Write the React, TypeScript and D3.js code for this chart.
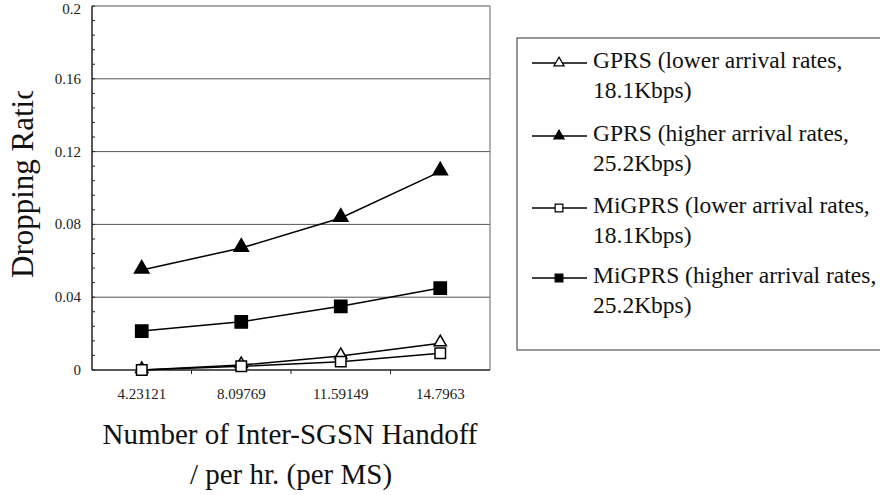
import React from "react";
import * as d3 from "d3";

const categories = ["4.23121", "8.09769", "11.59149", "14.7963"];
const gprsLow = [0, 0.0027, 0.0077, 0.0147];
const gprsHigh = [0.055, 0.067, 0.0835, 0.109];
const migprsLow = [0, 0.002, 0.0046, 0.0092];
const migprsHigh = [0.0214, 0.0265, 0.035, 0.045];
const yTicks = [0, 0.04, 0.08, 0.12, 0.16, 0.2];
const seriesNames = [
  ["GPRS (lower arrival rates,", "18.1Kbps)"],
  ["GPRS (higher arrival rates,", "25.2Kbps)"],
  ["MiGPRS (lower arrival rates,", "18.1Kbps)"],
  ["MiGPRS (higher arrival rates,", "25.2Kbps)"],
];

const FONT = "Liberation Serif, Times New Roman, serif";

export default function App() {
  const svgRef = React.useRef<SVGSVGElement>(null);
  const width = 880;
  const height = 495;
  const margin = { left: 92, right: 390, top: 6, bottom: 125 };

  React.useEffect(() => {
    const svgEl = d3.select(svgRef.current);
    svgEl.selectAll("*").remove();

    const x = d3.scaleBand().domain(categories).range([margin.left, width - margin.right]);
    const y = d3.scaleLinear().domain([0, 0.2]).range([height - margin.bottom, margin.top]);
    const x0 = margin.left, x1 = width - margin.right;
    const yb = height - margin.bottom;

    svgEl.append("rect").attr("width", width).attr("height", height).attr("fill", "white");

    // grid lines
    svgEl.append("g").selectAll("line")
      .data(yTicks.slice(1))
      .enter().append("line")
      .attr("x1", x0).attr("x2", x1)
      .attr("y1", (d) => y(d)).attr("y2", (d) => y(d))
      .attr("stroke", "#555")
      .attr("stroke-width", 1);
    // right border
    svgEl.append("line").attr("x1", x1).attr("x2", x1).attr("y1", y(0.2)).attr("y2", yb)
      .attr("stroke", "#666");

    // y axis, minor ticks pointing inward
    const minor = d3.range(0, 0.2001, 0.008);
    svgEl.append("g").selectAll("line")
      .data(minor)
      .enter().append("line")
      .attr("x1", x0).attr("x2", x0 + 3)
      .attr("y1", (d) => y(d)).attr("y2", (d) => y(d))
      .attr("stroke", "#222");
    svgEl.append("line").attr("x1", x0).attr("x2", x0).attr("y1", y(0.2)).attr("y2", yb)
      .attr("stroke", "#222").attr("stroke-width", 1.5);
    svgEl.append("g").selectAll("text")
      .data(yTicks)
      .enter().append("text")
      .attr("x", x0 - 11).attr("y", (d) => Math.max(y(d) + 5, 14))
      .attr("text-anchor", "end")
      .attr("font-family", FONT).attr("font-size", 15).attr("fill", "#222")
      .text((d) => String(+d.toFixed(2)));

    // x axis
    svgEl.append("line").attr("x1", x0).attr("x2", x1).attr("y1", yb).attr("y2", yb)
      .attr("stroke", "#222").attr("stroke-width", 1.5);
    const bounds = categories.slice(1).map((c) => x(c) as number);
    svgEl.append("g").selectAll("line")
      .data(bounds)
      .enter().append("line")
      .attr("x1", (d) => d).attr("x2", (d) => d)
      .attr("y1", yb).attr("y2", yb + 4)
      .attr("stroke", "#222");
    svgEl.append("g").selectAll("text")
      .data(categories)
      .enter().append("text")
      .attr("x", (d) => (x(d) as number) + x.bandwidth() / 2)
      .attr("y", yb + 29)
      .attr("text-anchor", "middle")
      .attr("font-family", FONT).attr("font-size", 15).attr("fill", "#222")
      .text((d) => d);

    // axis titles
    const xt = svgEl.append("text")
      .attr("text-anchor", "middle")
      .attr("font-family", FONT).attr("font-size", 29).attr("fill", "#111");
    xt.append("tspan").attr("x", 290).attr("y", 444).text("Number of Inter-SGSN Handoff");
    xt.append("tspan").attr("x", 291).attr("y", 484).text("/ per hr. (per MS)");

    svgEl.append("clipPath").attr("id", "yclip")
      .append("rect").attr("x", 0).attr("y", 91).attr("width", 60).attr("height", 300);
    svgEl.append("g").attr("clip-path", "url(#yclip)")
      .append("text")
      .attr("transform", "translate(33,278) rotate(-90)")
      .attr("text-anchor", "start")
      .attr("font-family", FONT).attr("font-size", 31).attr("fill", "#111")
      .text("Dropping Ratio");

    // series
    const series = [
      { values: gprsLow, shape: "triangle", fill: "white" },
      { values: gprsHigh, shape: "triangle", fill: "black" },
      { values: migprsLow, shape: "square", fill: "white" },
      { values: migprsHigh, shape: "square", fill: "black" },
    ];
    const cx = (i: number) => (x(categories[i]) as number) + x.bandwidth() / 2;
    const line = d3.line<number>().x((_, i) => cx(i)).y((d) => y(d));
    const plotSym = (shape: string, filled: boolean) =>
      shape === "triangle"
        ? d3.symbol(d3.symbolTriangle, filled ? 90 : 65)()
        : d3.symbol(d3.symbolSquare, filled ? 150 : 110)();
    const legendSym = (shape: string) =>
      shape === "triangle"
        ? d3.symbol(d3.symbolTriangle, 45)()
        : d3.symbol(d3.symbolSquare, 60)();

    series.forEach((s) => {
      svgEl.append("path").attr("d", line(s.values))
        .attr("fill", "none").attr("stroke", "black").attr("stroke-width", 1.5);
    });
    series.forEach((s) => {
      svgEl.append("g").selectAll("path")
        .data(s.values)
        .enter().append("path")
        .attr("d", plotSym(s.shape, s.fill === "black"))
        .attr("transform", (d, i) => `translate(${cx(i)},${y(d) - (s.shape === "triangle" ? 1 : 0)})`)
        .attr("fill", s.fill).attr("stroke", "black").attr("stroke-width", 1.5);
    });

    // legend
    svgEl.append("rect").attr("x", 517).attr("y", 38).attr("width", 400).attr("height", 312)
      .attr("fill", "white").attr("stroke", "#333").attr("stroke-width", 1);
    const rowY = [63, 136, 208, 278];
    series.forEach((s, i) => {
      const g = svgEl.append("g").attr("transform", `translate(0,${rowY[i]})`);
      g.append("line").attr("x1", 532).attr("x2", 587).attr("y1", 0).attr("y2", 0)
        .attr("stroke", "black").attr("stroke-width", 1.5);
      g.append("path").attr("d", legendSym(s.shape))
        .attr("transform", "translate(559,0)")
        .attr("fill", s.fill).attr("stroke", "black").attr("stroke-width", 1.2);
      const t = g.append("text").attr("font-family", FONT).attr("font-size", 23.5).attr("fill", "#111");
      t.append("tspan").attr("x", 593).attr("y", 5).text(seriesNames[i][0]);
      t.append("tspan").attr("x", 593).attr("y", 35).text(seriesNames[i][1]);
    });
  }, []);

  return (
    <svg
      ref={svgRef}
      width={width}
      height={height}
      style={{ position: "absolute", left: 0, top: 0, display: "block" }}
    />
  );
}
